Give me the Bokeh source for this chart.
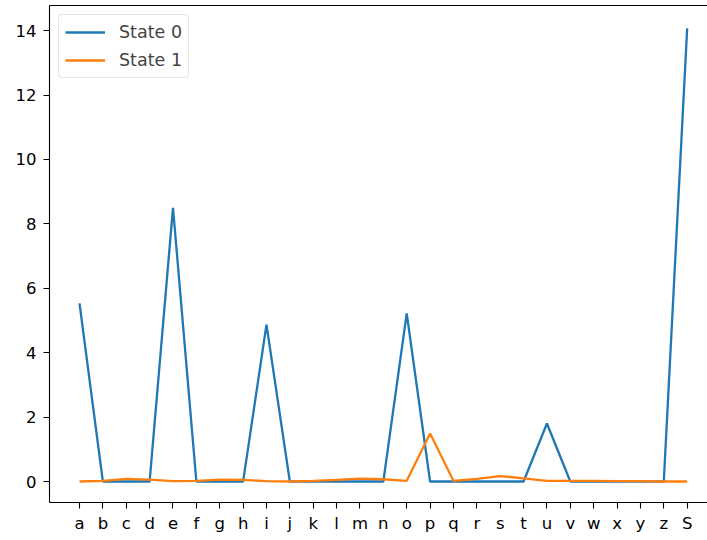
from bokeh.plotting import figure
from bokeh.models import FixedTicker, LinearAxis, Range1d, Legend, LegendItem
from bokeh.embed import file_html
from bokeh.resources import INLINE

categories = list("abcdefghijklmnopqrstuvwxyz") + ["S"]
state0 = [5.53, 0, 0, 0, 8.5, 0, 0, 0, 4.87, 0, 0, 0, 0, 0, 5.22, 0, 0, 0, 0, 0,
          1.8, 0, 0, 0, 0, 0, 14.07]
state1 = [0.0, 0.02, 0.08, 0.06, 0.01, 0.02, 0.06, 0.05, 0.01, 0.0, 0.02, 0.05,
          0.09, 0.07, 0.02, 1.49, 0.02, 0.08, 0.17, 0.1, 0.02, 0.02, 0.02, 0.01,
          0.01, 0.0, 0.0]
series_names = ["State 0", "State 1"]
colors = ["#1f77b4", "#ff7f0e"]
y_ticks = [0, 2, 4, 6, 8, 10, 12, 14]

xs = list(range(len(categories)))

p = figure(width=707, height=535, output_backend="svg", toolbar_location=None,
           x_range=Range1d(-1.284, 26.87), y_range=Range1d(-0.652, 14.78),
           min_border_left=49, min_border_right=0, min_border_top=5,
           min_border_bottom=30)
p.frame_width = 658
p.frame_height = 497
p.outline_line_color = None
p.xgrid.visible = False
p.ygrid.visible = False
p.background_fill_color = "white"

r0 = p.line(xs, state0, line_color=colors[0], line_width=2.3)
r1 = p.line(xs, state1, line_color=colors[1], line_width=2.3)

font = "DejaVu Sans"
for ax in (p.xaxis[0], p.yaxis[0]):
    ax.axis_line_color = "black"
    ax.axis_line_width = 1.1
    ax.major_tick_line_color = "black"
    ax.major_tick_line_width = 1.1
    ax.major_tick_out = 6
    ax.major_tick_in = 0
    ax.minor_tick_line_color = None
    ax.major_label_text_font = font
    ax.major_label_text_font_size = "16.5px"
    ax.major_label_text_color = "black"

p.xaxis[0].major_label_standoff = 5
p.yaxis[0].major_label_standoff = 7
p.xaxis[0].ticker = FixedTicker(ticks=xs)
p.xaxis[0].major_label_overrides = {i: c for i, c in enumerate(categories)}
p.yaxis[0].ticker = FixedTicker(ticks=y_ticks)

top = LinearAxis(ticker=FixedTicker(ticks=[]), axis_line_color="black",
                 axis_line_width=1.1, major_tick_line_color=None,
                 minor_tick_line_color=None, major_label_text_font_size="0px")
p.add_layout(top, "above")

legend = Legend(items=[LegendItem(label=series_names[0], renderers=[r0]),
                       LegendItem(label=series_names[1], renderers=[r1])],
                location="top_left")
legend.margin = 9
legend.padding = 6
legend.spacing = 6
legend.glyph_width = 40
legend.glyph_height = 22
legend.label_standoff = 14
legend.label_text_font = font
legend.label_text_font_size = "17.5px"
legend.border_line_color = "#cccccc"
legend.border_line_width = 1
legend.background_fill_alpha = 0.8
legend.border_radius = 4
p.add_layout(legend)

open("out.html", "w").write(file_html(p, INLINE))
